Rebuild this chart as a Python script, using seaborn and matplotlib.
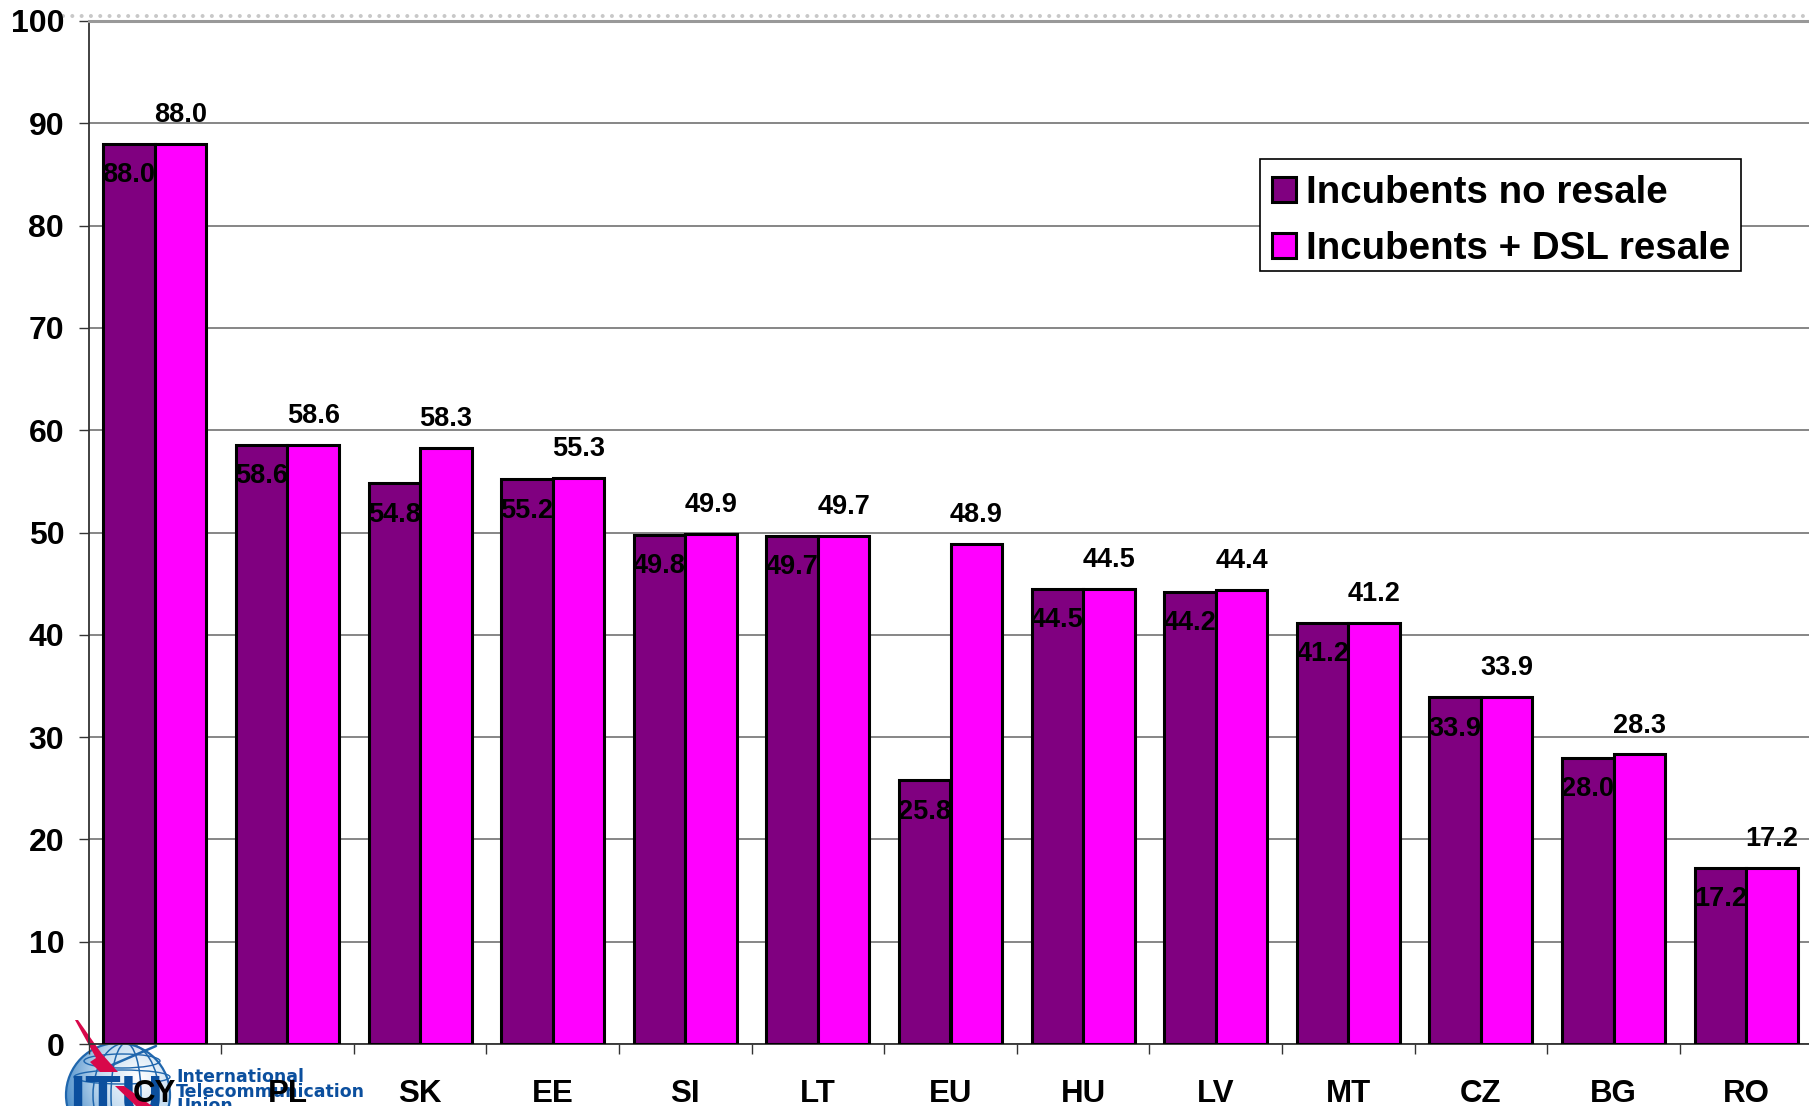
import numpy as np
import pandas as pd
import matplotlib
matplotlib.use("Agg")
import matplotlib.pyplot as plt
from matplotlib.patches import Circle, Ellipse, Polygon, Rectangle
import seaborn as sns

# Market shares by country, in percent
countries = ["CY", "PL", "SK", "EE", "SI", "LT", "EU", "HU", "LV", "MT", "CZ", "BG", "RO"]
no_resale = [88.0, 58.6, 54.8, 55.2, 49.8, 49.7, 25.8, 44.5, 44.2, 41.2, 33.9, 28.0, 17.2]
dsl_resale = [88.0, 58.6, 58.3, 55.3, 49.9, 49.7, 48.9, 44.5, 44.4, 41.2, 33.9, 28.3, 17.2]
series_names = ["Incubents no resale", "Incubents + DSL resale"]
series_colors = ["#800080", "#FF00FF"]
y_ticks = list(range(0, 101, 10))

sns.set_theme(style="white")
plt.rcParams["font.family"] = ["Liberation Sans", "DejaVu Sans"]
plt.rcParams["font.weight"] = "bold"
plt.rcParams["text.color"] = "black"
plt.rcParams["xtick.color"] = "black"
plt.rcParams["ytick.color"] = "black"
plt.rcParams["xtick.labelcolor"] = "black"
plt.rcParams["ytick.labelcolor"] = "black"

W, H = 1809, 1106
fig = plt.figure(figsize=(W / 100, H / 100), dpi=100, facecolor="white")

# Background layer in pixel coordinates for the emblem and the dotted rule
bg = fig.add_axes([0, 0, 1, 1], zorder=0)
bg.axis("off")

bg.plot([63, W], [16, 16], color="#c8c8c8", lw=2.9,
        ls=(0, (0.01, 2.3)), dash_capstyle="round")

# Emblem: shaded globe
gx, gy, gr = 118, 1095, 52
yy, xx = np.mgrid[-1:1:200j, -1:1:200j]
shade = np.clip(np.hypot(xx - 0.4, yy + 0.35) / 1.5, 0, 1)
img = bg.imshow(shade, extent=(gx - gr, gx + gr, gy + gr, gy - gr),
                cmap=matplotlib.colors.LinearSegmentedColormap.from_list(
                    "globe", ["#ffffff", "#c4dcf0", "#4a8dca"]),
                aspect="auto", zorder=1)
img.set_clip_path(Circle((gx, gy), gr, transform=bg.transData))
bg.set_xlim(0, W)
bg.set_ylim(H, 0)
bg.add_patch(Circle((gx, gy), gr, fc="none", ec="#1f66ad", lw=1.6, zorder=2))
for w in (30, 66):
    bg.add_patch(Ellipse((gx + 8, gy), w, 2 * gr, fc="none", ec="#1f66ad", lw=1.1, zorder=2))
for dy, w in ((-34, 76), (-18, 96)):
    bg.add_patch(Ellipse((gx + 4, gy + dy), w, 14, fc="none", ec="#1f66ad", lw=1.0, zorder=2))
bg.plot([112, 156], [1065, 1046], color="#1f66ad", lw=1.8, zorder=2)

# Emblem: wordmark
bg.text(69, 1116, "ITU", color="#0b4f9e", fontsize=42, fontweight="bold",
        ha="left", va="baseline", zorder=3)
for y, line in zip((1077, 1092, 1106), ("International", "Telecommunication", "Union")):
    bg.text(176, y, line, color="#0b4f9e", fontsize=12.5, fontweight="bold",
            ha="left", va="center", family="DejaVu Sans", zorder=3)

# Emblem: lightning bolt, broken into an upper and a lower stroke
bg.add_patch(Polygon([(75, 1020), (78, 1020), (97, 1047), (102, 1054), (118, 1072),
                      (100, 1072), (90, 1062), (96, 1058)],
                     closed=True, fc="#d8084a", ec="none", zorder=4))
bg.add_patch(Polygon([(115, 1086), (124, 1086), (152, 1106), (136, 1106)],
                     closed=True, fc="#d8084a", ec="none", zorder=4))

# Main chart sits above the emblem; the last category runs off the right edge
left, right, top, bottom = 88.5, 1812.5, 21, 1044
ax = fig.add_axes([left / W, 1 - bottom / H, (right - left) / W, (bottom - top) / H],
                  zorder=2)
ax.patch.set_alpha(0)

df = pd.DataFrame({
    "country": countries * 2,
    "share": no_resale + dsl_resale,
    "series": [series_names[0]] * len(countries) + [series_names[1]] * len(countries),
})
sns.barplot(data=df, x="country", y="share", hue="series", hue_order=series_names,
            palette=series_colors, order=countries, width=0.777, gap=0, dodge=True,
            saturation=1, edgecolor="black", linewidth=2.2, errorbar=None,
            legend=False, ax=ax, zorder=3)

ax.set_xlim(-0.5, len(countries) - 0.5)
ax.set_ylim(0, 100)
ax.set_xlabel("")
ax.set_ylabel("")

ax.set_yticks(y_ticks)
ax.set_xticks(range(len(countries)))
ax.set_xticklabels(countries)
ax.set_xticks(np.arange(-0.5, len(countries)), minor=True)
ax.tick_params(axis="x", which="major", length=0, pad=25.5, labelsize=22.5)
ax.tick_params(axis="x", which="minor", length=7.5, width=1, color="#333333", bottom=True)
ax.tick_params(axis="y", which="major", length=7.5, width=1, color="#333333", pad=10,
               labelsize=23, left=True)

ax.set_axisbelow(True)
ax.grid(axis="y", color="#666666", lw=1.1, zorder=0)
ax.grid(axis="x", visible=False)
for name in ("left", "bottom"):
    ax.spines[name].set_visible(True)
    ax.spines[name].set_color("#333333")
    ax.spines[name].set_linewidth(1.3)
ax.spines["right"].set_visible(False)
ax.spines["top"].set_visible(True)
ax.spines["top"].set_color("#999999")
ax.spines["top"].set_linewidth(2.2)

# Value labels: inside the dark bars, above the bright ones
ax.bar_label(ax.containers[0], fmt="%.1f", padding=-32, fontsize=19.5, fontweight="bold",
             color="black", zorder=6)
ax.bar_label(ax.containers[1], fmt="%.1f", padding=11.5, fontsize=19.5, fontweight="bold",
             color="black", zorder=6)

# Legend box is a separate frame so the entries can sit low inside it
ax.add_patch(Rectangle((1259.5 / W, 1 - 271 / H), (1741 - 1259.5) / W, (271 - 159) / H,
                       transform=fig.transFigure, fc="white", ec="black", lw=1.2,
                       zorder=9, clip_on=False))
handles = [Rectangle((0, 0), 1, 1, fc=c, ec="black", lw=2.2) for c in series_colors]
leg = ax.legend(handles, series_names, loc="upper left",
                bbox_to_anchor=(1272 / W, 1 - 175 / H), bbox_transform=fig.transFigure,
                frameon=False, fontsize=27.7, handlelength=0.62, handleheight=0.62,
                handletextpad=0.26, labelspacing=0.53, borderpad=0, borderaxespad=0,
                labelcolor="black")
leg.set_zorder(10)
for t in leg.get_texts():
    t.set_fontweight("bold")

fig.savefig("out.png", dpi=100, facecolor="white")
